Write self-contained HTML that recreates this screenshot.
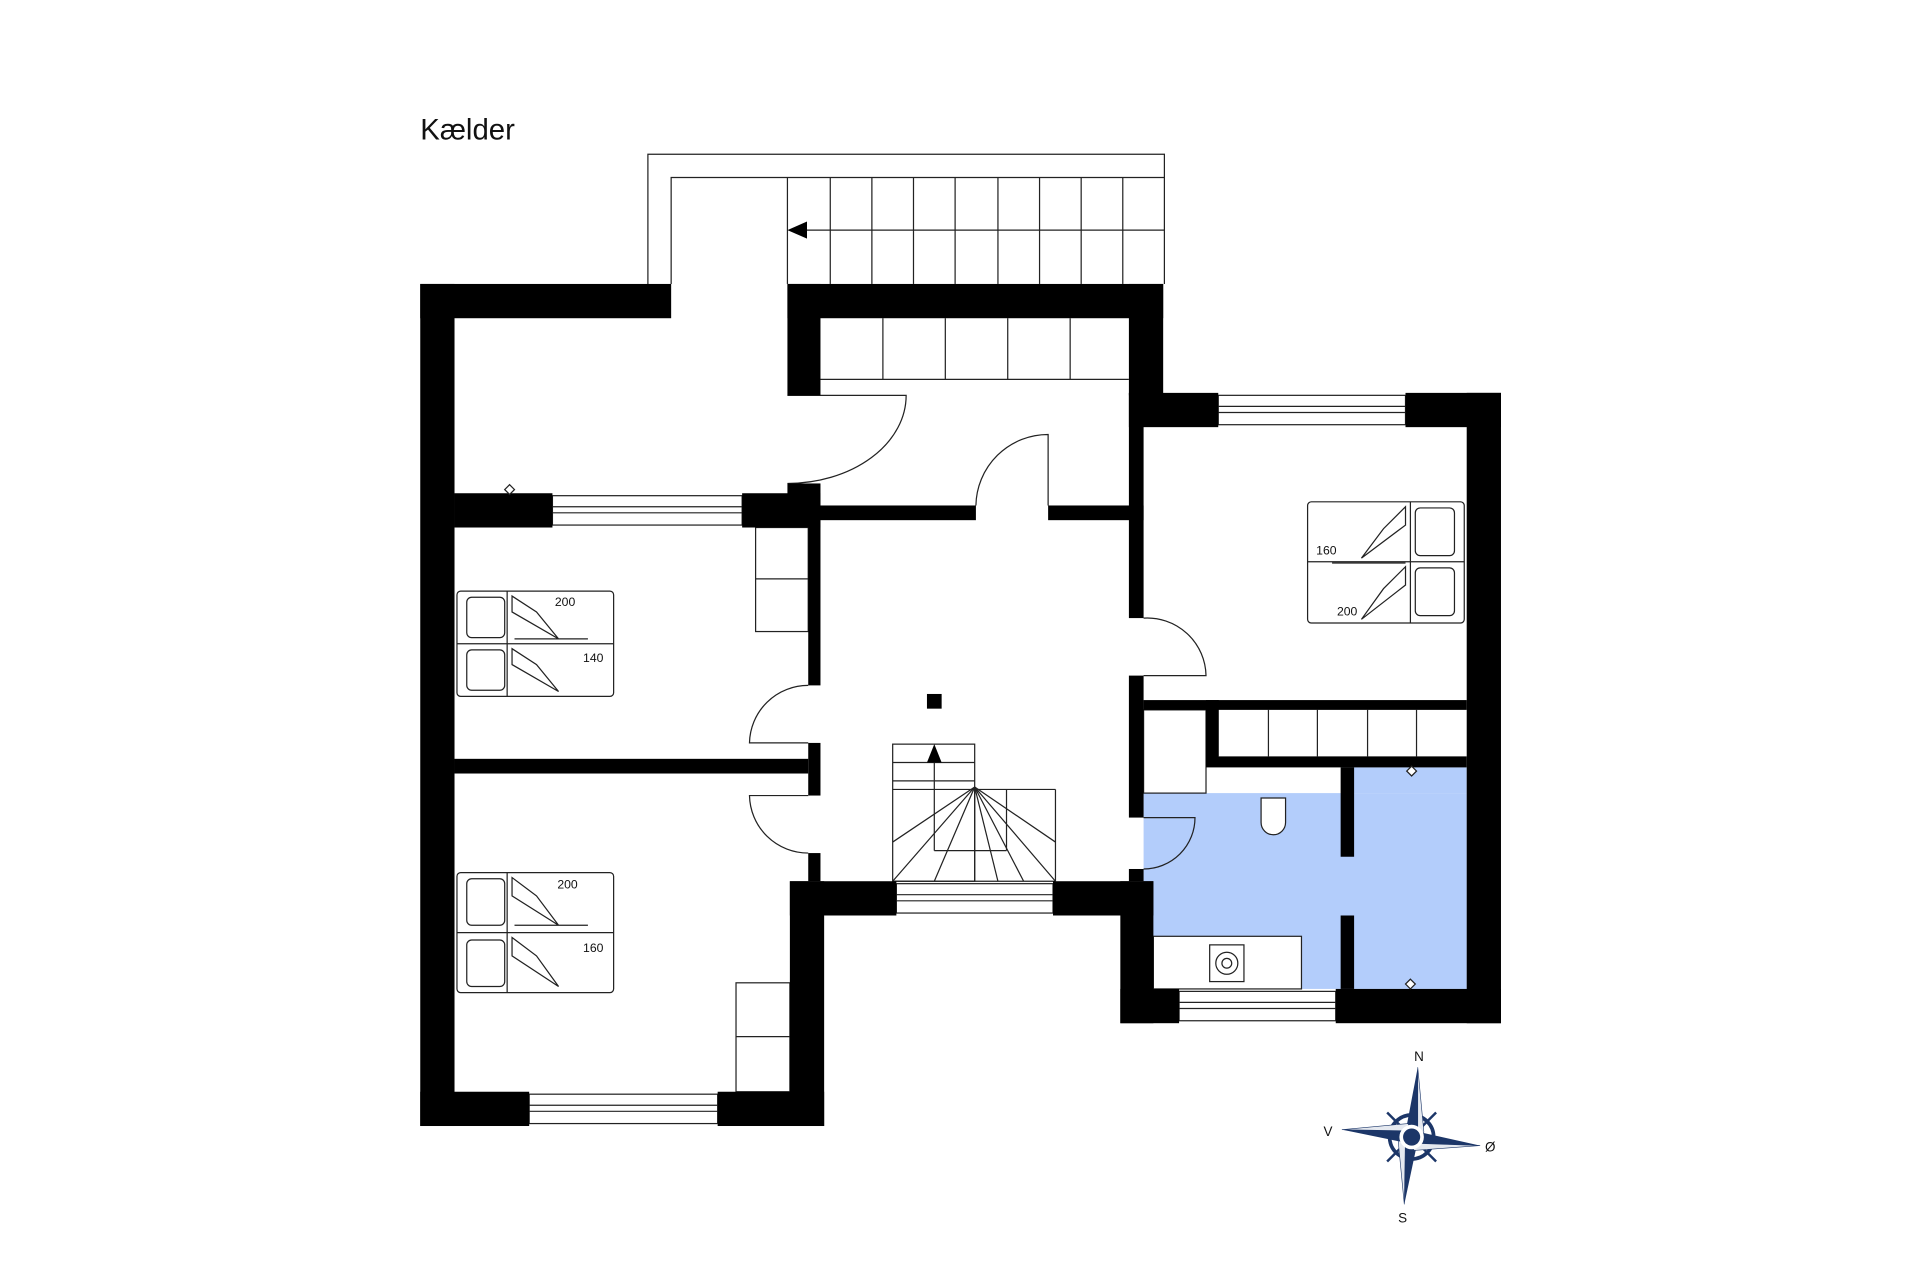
<!DOCTYPE html>
<html><head><meta charset="utf-8"><style>html,body{margin:0;padding:0;background:#fff}svg{display:block}</style></head>
<body>
<svg width="1920" height="1279" viewBox="0 0 1568 1045" xmlns="http://www.w3.org/2000/svg" font-family="Liberation Sans, sans-serif">
<rect width="1568" height="1045" fill="#fff"/>
<text x="343" y="114" font-size="24" fill="#111">Kælder</text>
<!-- blue bathroom -->
<rect x="934" y="648" width="264" height="160" fill="#b3cdfb"/>
<rect x="1096" y="627" width="102" height="21" fill="#b3cdfb"/>
<!-- outside stairs -->
<g fill="none" stroke="#222" stroke-width="1">
<polyline points="529,232 529,126 951,126 951,232"/>
<polyline points="548,232 548,145 951,145"/>
<line x1="643" y1="145" x2="643" y2="232"/>
<line x1="678" y1="145" x2="678" y2="232"/><line x1="712" y1="145" x2="712" y2="232"/><line x1="746" y1="145" x2="746" y2="232"/><line x1="780" y1="145" x2="780" y2="232"/><line x1="815" y1="145" x2="815" y2="232"/><line x1="849" y1="145" x2="849" y2="232"/><line x1="883" y1="145" x2="883" y2="232"/><line x1="917" y1="145" x2="917" y2="232"/>
<line x1="951" y1="188" x2="655" y2="188"/>
<line x1="670" y1="310" x2="922" y2="310"/>
<line x1="721" y1="260" x2="721" y2="310"/><line x1="772" y1="260" x2="772" y2="310"/><line x1="823" y1="260" x2="823" y2="310"/><line x1="874" y1="260" x2="874" y2="310"/>
<line x1="995" y1="572" x2="995" y2="618"/>
<line x1="1036" y1="580" x2="1036" y2="618"/><line x1="1076" y1="580" x2="1076" y2="618"/><line x1="1117" y1="580" x2="1117" y2="618"/><line x1="1157" y1="580" x2="1157" y2="618"/>
<rect x="934" y="580" width="51" height="68"/>
<rect x="617" y="431" width="43" height="85"/><line x1="617" y1="473" x2="660" y2="473"/>
<rect x="601" y="803" width="44" height="89"/><line x1="601" y1="847" x2="645" y2="847"/>
<rect x="729" y="608" width="67" height="112"/>
<line x1="729" y1="623" x2="796" y2="623"/><line x1="729" y1="638" x2="796" y2="638"/><line x1="729" y1="645" x2="862" y2="645"/>
<line x1="862" y1="645" x2="862" y2="720"/><line x1="822" y1="645" x2="822" y2="695"/><line x1="763" y1="695" x2="822" y2="695"/><line x1="763" y1="620" x2="763" y2="695"/>
<line x1="796" y1="643" x2="729" y2="688"/><line x1="796" y1="643" x2="729" y2="720"/><line x1="796" y1="643" x2="763" y2="720"/><line x1="796" y1="643" x2="796" y2="720"/><line x1="796" y1="643" x2="815" y2="720"/><line x1="796" y1="643" x2="836" y2="720"/><line x1="796" y1="643" x2="862" y2="720"/><line x1="796" y1="643" x2="862" y2="688"/>
<line x1="729" y1="720" x2="862" y2="720"/>
<!-- doors -->
<path d="M643,323 L740,323 A97,72 0 0 1 643,395"/>
<path d="M797,413 A59,59 0 0 1 856,355 L856,413"/>
<path d="M660,560 A48,48 0 0 0 612,607 L660,607"/>
<path d="M660,650 L612,650 A48,48 0 0 0 660,697"/>
<path d="M934,505 A48,48 0 0 1 985,552 L934,552"/>
<path d="M934,710 A42,42 0 0 0 976,668 L934,668"/>
<!-- windows -->
<rect x="451" y="405" width="155" height="24" fill="#fff"/><line x1="451" y1="414" x2="606" y2="414"/><line x1="451" y1="419" x2="606" y2="419"/>
<rect x="432" y="894" width="154" height="24" fill="#fff"/><line x1="432" y1="903" x2="586" y2="903"/><line x1="432" y1="908" x2="586" y2="908"/>
<rect x="995" y="323" width="153" height="24" fill="#fff"/><line x1="995" y1="332" x2="1148" y2="332"/><line x1="995" y1="337" x2="1148" y2="337"/>
<rect x="732" y="722" width="128" height="24" fill="#fff"/><line x1="732" y1="731" x2="860" y2="731"/><line x1="732" y1="736" x2="860" y2="736"/>
<rect x="963" y="810" width="128" height="24" fill="#fff"/><line x1="963" y1="819" x2="1091" y2="819"/><line x1="963" y1="824" x2="1091" y2="824"/>
<rect x="942" y="765" width="121" height="43" fill="#fff"/>
<rect x="988" y="772" width="28" height="30" fill="#fff"/><circle cx="1002" cy="787" r="9"/><circle cx="1002" cy="787" r="4"/>
<path d="M1030,652 L1050,652 L1050,672 A10,10 0 0 1 1030,672 Z" fill="#fff"/>
</g>
<g fill="#000">
<rect x="343" y="232" width="205" height="28"/>
<rect x="343" y="232" width="28" height="688"/>
<rect x="343" y="892" width="89" height="28"/><rect x="586" y="892" width="87" height="28"/>
<rect x="645" y="720" width="28" height="200"/>
<rect x="643" y="232" width="307" height="28"/>
<rect x="643" y="232" width="27" height="91"/><rect x="643" y="395" width="27" height="36"/>
<rect x="922" y="232" width="28" height="91"/>
<rect x="922" y="321" width="73" height="28"/><rect x="1148" y="321" width="78" height="28"/>
<rect x="1198" y="321" width="28" height="515"/>
<rect x="371" y="403" width="80" height="28"/><rect x="606" y="403" width="64" height="28"/>
<rect x="670" y="413" width="127" height="12"/><rect x="856" y="413" width="78" height="12"/>
<rect x="660" y="425" width="10" height="135"/><rect x="660" y="607" width="10" height="43"/><rect x="660" y="697" width="10" height="23"/>
<rect x="371" y="620" width="289" height="12"/>
<rect x="922" y="321" width="12" height="184"/><rect x="922" y="552" width="12" height="116"/><rect x="922" y="710" width="12" height="10"/>
<rect x="934" y="572" width="264" height="8"/>
<rect x="985" y="572" width="10" height="48"/>
<rect x="985" y="618" width="213" height="9"/>
<rect x="1095" y="627" width="11" height="73"/><rect x="1095" y="748" width="11" height="60"/>
<rect x="645" y="720" width="87" height="28"/><rect x="860" y="720" width="82" height="28"/>
<rect x="915" y="720" width="27" height="116"/>
<rect x="915" y="808" width="48" height="28"/><rect x="1091" y="808" width="135" height="28"/>
<rect x="757" y="567" width="12" height="12"/>
<polygon points="643,188 659,181 659,195"/>
<polygon points="763,608 757,623 769,623"/>
</g>
<g fill="#fff" stroke="#222" stroke-width="1">
<path d="M416,396 l4,4 -4,4 -4,-4z"/><path d="M1153,626 l4,4 -4,4 -4,-4z"/><path d="M1152,800 l4,4 -4,4 -4,-4z"/>
</g>
<g fill="#fff" stroke="#222" stroke-width="1">
<rect x="373" y="483" width="128" height="86" rx="3"/><line x1="373" y1="526" x2="501" y2="526"/><line x1="414" y1="483" x2="414" y2="569"/>
<rect x="381" y="488" width="31" height="33" rx="4"/><rect x="381" y="531" width="31" height="33" rx="4"/>
<path d="M418,487 L418,500 L456,522 L438,500 Z M420,522 L480,522 M418,530 L418,543 L456,565 L438,543 Z"/>
<rect x="373" y="713" width="128" height="98" rx="3"/><line x1="373" y1="762" x2="501" y2="762"/><line x1="414" y1="713" x2="414" y2="811"/>
<rect x="381" y="718" width="31" height="38" rx="4"/><rect x="381" y="768" width="31" height="38" rx="4"/>
<path d="M418,717 L418,732 L456,756 L438,732 Z M420,756 L480,756 M418,766 L418,781 L456,806 L438,781 Z"/>
<rect x="1068" y="410" width="128" height="99" rx="3"/><line x1="1068" y1="459" x2="1196" y2="459"/><line x1="1152" y1="410" x2="1152" y2="509"/>
<rect x="1156" y="415" width="32" height="39" rx="4"/><rect x="1156" y="464" width="32" height="39" rx="4"/>
<path d="M1148,414 L1148,429 L1112,456 L1130,432 Z M1088,460 L1148,460 M1148,463 L1148,478 L1112,506 L1130,481 Z"/>
</g>
<g font-size="10" fill="#111">
<text x="453" y="495">200</text><text x="476" y="541">140</text>
<text x="455" y="726">200</text><text x="476" y="778">160</text>
<text x="1075" y="453">160</text><text x="1092" y="503">200</text>
</g>
<g>
<circle cx="1153" cy="929" r="18" fill="none" stroke="#1c3668" stroke-width="3"/>
<line x1="1133" y1="909" x2="1173" y2="949" stroke="#1c3668" stroke-width="2"/>
<line x1="1173" y1="909" x2="1133" y2="949" stroke="#1c3668" stroke-width="2"/>
<polygon points="1158,872 1148,925 1158,932" fill="#1c3668"/><polygon points="1158,872 1158,932 1163,925" fill="#e5e9f0" stroke="#1c3668" stroke-width=".5"/>
<polygon points="1147,984 1158,932 1148,925" fill="#1c3668"/><polygon points="1147,984 1142,932 1148,925" fill="#e5e9f0" stroke="#1c3668" stroke-width=".5"/>
<polygon points="1096,923 1150,934 1153,924" fill="#1c3668"/><polygon points="1096,923 1153,924 1150,918" fill="#e5e9f0" stroke="#1c3668" stroke-width=".5"/>
<polygon points="1209,936 1155,924 1153,934" fill="#1c3668"/><polygon points="1209,936 1153,934 1155,940" fill="#e5e9f0" stroke="#1c3668" stroke-width=".5"/>
<circle cx="1153" cy="929" r="10" fill="#fff"/><circle cx="1153" cy="929" r="7" fill="#1c3668"/>
<g font-size="11" fill="#111"><text x="1155" y="867">N</text><text x="1081" y="928">V</text><text x="1213" y="941">Ø</text><text x="1142" y="999">S</text></g>
</g>
</svg>
</body></html>
